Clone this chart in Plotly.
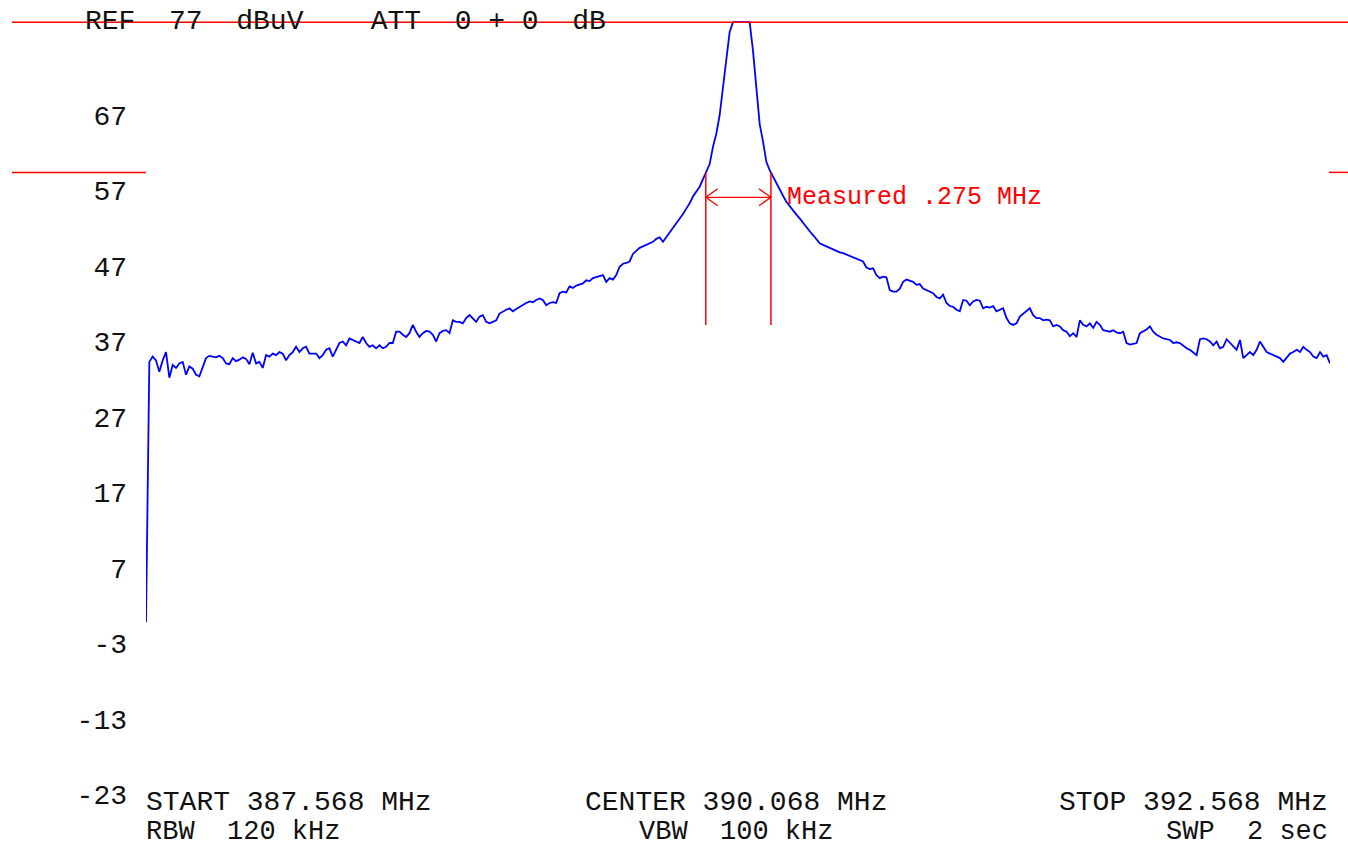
import numpy as np
import plotly.graph_objects as go

# ---------------- data ----------------
start_mhz = 387.568
center_mhz = 390.068
stop_mhz = 392.568
ref_line_db = 79.3          # top-of-screen reference line (display clip level)
meas_level_db = 59.4        # level of the measurement lines
meas_arrow_db = 56.1
meas_bottom_db = 39.2
meas_lo_mhz = 389.932
meas_hi_mhz = 390.207

ytick_vals = [67, 57, 47, 37, 27, 17, 7, -3, -13, -23]
ytick_text = ["67", "57", "47", "37", "27", "17", "7", "-3", "-13", "-23"]

level_dbuv = [
    -0.2,
    34.3, 35.0, 34.5, 33.0, 34.5, 35.6, 32.2, 33.9, 33.5, 34.1,
    34.3, 32.6, 33.7, 33.4, 32.6, 32.4, 33.5, 34.8, 35.1, 35.0,
    34.9, 35.1, 34.8, 34.1, 34.0, 34.8, 34.4, 34.6, 34.9, 34.7,
    34.0, 35.5, 34.1, 34.3, 33.5, 35.2, 35.0, 35.4, 35.2, 35.6,
    35.4, 34.5, 35.2, 35.6, 36.3, 35.6, 36.1, 36.3, 35.4, 35.4,
    35.4, 34.8, 35.2, 35.9, 36.1, 35.0, 35.9, 36.8, 37.0, 36.5,
    37.4, 37.2, 37.0, 36.8, 37.6, 36.8, 36.3, 36.5, 36.1, 36.5,
    36.1, 36.3, 36.8, 36.8,
    38.3, 38.3, 37.9, 37.6, 38.1, 39.2, 38.3, 37.6, 38.1, 38.4,
    38.3, 37.9, 37.0, 38.1, 38.4, 38.5, 38.1, 39.8, 39.6, 39.6,
    39.4, 40.1, 40.5, 40.1, 39.6, 40.3, 40.5, 39.6, 39.4, 39.6,
    39.8, 40.7, 41.0, 41.2, 41.4, 41.0, 41.3, 41.6, 41.8, 42.1,
    42.3, 42.2, 42.5, 42.7, 42.5, 41.8, 42.1, 42.2, 42.1, 43.4,
    43.6, 43.5, 44.3, 44.1, 44.4, 44.5, 44.7, 45.1, 45.0, 45.4,
    45.5, 45.7, 45.8, 44.9, 45.4, 45.2, 45.8, 46.9, 47.3, 47.4,
    47.6,
    48.6, 49.0, 49.4, 49.6, 49.8, 50.0, 50.2, 50.6, 50.8, 50.2,
    50.8, 51.4, 52.0, 52.7, 53.3, 53.9, 54.6, 55.3, 56.2, 56.8,
    57.5, 58.5, 59.5, 60.5, 62.8, 64.5, 67.0, 70.5, 74.5, 78.0,
    79.3, 79.3, 79.3, 79.3, 79.3, 79.3, 75.5, 70.5, 65.8, 63.5,
    60.8, 59.7, 58.8, 57.9, 57.1, 56.3, 55.5, 54.9, 54.4, 53.8,
    53.3, 52.7, 52.2, 51.6, 51.1, 50.6, 50.0, 49.8, 49.6, 49.4,
    49.1, 49.0, 48.8, 48.7, 48.5, 48.3, 48.2, 48.0, 47.8, 47.6,
    46.8, 46.6, 46.7, 45.8, 45.4, 45.6, 45.5, 43.8, 43.6, 43.6,
    44.0, 44.9, 45.2, 45.1, 44.9, 44.5, 44.6, 44.0, 43.8, 43.6,
    43.4, 42.9, 42.7, 43.2, 42.1, 41.7, 41.6, 41.2, 41.0, 42.5,
    42.4, 41.8, 42.3, 42.5, 42.4, 41.4, 41.6, 41.5, 41.7, 41.0,
    41.2, 41.4, 40.1, 39.4, 39.2, 39.4, 40.3, 40.7, 41.0, 41.4,
    40.5, 40.1, 40.1, 39.8, 39.9, 39.8, 39.0, 39.2, 39.0, 38.5,
    38.3, 37.7, 38.1, 37.6, 39.8, 39.2, 39.0, 39.4, 38.8, 39.6,
    39.2, 38.5,
    38.4, 38.3, 38.5, 38.2, 38.1, 38.3, 36.8, 36.6, 36.7, 36.8,
    38.1, 38.3, 38.6, 39.0, 38.3, 37.9, 37.6, 37.4, 37.3, 37.2,
    36.8, 36.9, 36.8, 36.4, 36.1, 35.9, 35.6, 35.2, 37.3, 37.4,
    37.3, 37.0, 36.5, 37.0, 36.1, 36.3, 37.3, 36.8, 36.3, 35.9,
    37.2, 34.8, 35.2, 35.6, 35.2, 35.9, 37.0, 36.3, 35.6, 35.4,
    35.2, 35.0, 34.8, 34.3, 34.8, 35.4, 35.6, 35.9, 35.6, 36.3,
    35.9, 35.6, 35.0, 34.8, 35.6, 35.0, 35.2, 34.1,
]

# uniform sweep grid of the analyzer
freq_mhz = np.linspace(start_mhz, stop_mhz, len(level_dbuv))

# ---------------- layout geometry ----------------
W, H = 1348, 846
ML, MR, MT, MB = 146, 18, 10, 46
PW, PH = W - ML - MR, H - MT - MB
Y_MIN, Y_MAX = -23.728, 80.907

def paper_y_from_px(py):
    return (H - MB - py) / PH

def paper_x_from_px(px):
    return (px - ML) / PW

def paper_y_from_val(v):
    return (v - Y_MIN) / (Y_MAX - Y_MIN)

RED = "#ff0000"
BLUE = "#0000ff"
TXT = "#111111"
FONT = "Liberation Mono"
FS = 28

NB = "\u00a0"
def nb(s):
    return s.replace(" ", NB)

fig = go.Figure()
fig.add_trace(go.Scatter(
    x=freq_mhz, y=level_dbuv, mode="lines",
    line=dict(color=BLUE, width=1.8), hoverinfo="skip", showlegend=False,
))

shapes = []
yr = paper_y_from_val(ref_line_db)
shapes.append(dict(type="line", xref="paper", yref="paper",
                   x0=paper_x_from_px(12), x1=paper_x_from_px(W), y0=yr, y1=yr,
                   line=dict(color=RED, width=1.5)))
ym = paper_y_from_val(meas_level_db)
shapes.append(dict(type="line", xref="paper", yref="paper",
                   x0=paper_x_from_px(12), x1=0, y0=ym, y1=ym,
                   line=dict(color=RED, width=1.5)))
shapes.append(dict(type="line", xref="paper", yref="paper",
                   x0=paper_x_from_px(1329), x1=paper_x_from_px(W), y0=ym, y1=ym,
                   line=dict(color=RED, width=1.5)))
for f in (meas_lo_mhz, meas_hi_mhz):
    shapes.append(dict(type="line", xref="x", yref="y",
                       x0=f, x1=f, y0=meas_bottom_db, y1=meas_level_db,
                       line=dict(color=RED, width=1.5)))
mhz_per_px = (stop_mhz - start_mhz) / PW
db_per_px = (Y_MAX - Y_MIN) / PH
dx = 12 * mhz_per_px
dy = 8.5 * db_per_px
path = (f"M {meas_lo_mhz} {meas_arrow_db} L {meas_hi_mhz} {meas_arrow_db} "
        f"M {meas_lo_mhz + dx} {meas_arrow_db + dy} L {meas_lo_mhz} {meas_arrow_db} "
        f"L {meas_lo_mhz + dx} {meas_arrow_db - dy} "
        f"M {meas_hi_mhz - dx} {meas_arrow_db + dy} L {meas_hi_mhz} {meas_arrow_db} "
        f"L {meas_hi_mhz - dx} {meas_arrow_db - dy}")
shapes.append(dict(type="path", xref="x", yref="y", path=path,
                   line=dict(color=RED, width=1.3)))

annotations = []
def add_text(text, x, y, xanchor, color=TXT, size=FS, xref="paper"):
    annotations.append(dict(text=nb(text), x=x, y=y, xref=xref, yref="paper",
                            xanchor=xanchor, yanchor="middle", showarrow=False,
                            borderpad=0,
                            font=dict(family=FONT, size=size, color=color)))

FS2 = 27
L1, L2 = 802, 832
add_text("REF  77  dBuV    ATT  0 + 0  dB", paper_x_from_px(84), paper_y_from_px(22), "left")
add_text("START 387.568 MHz", paper_x_from_px(145), paper_y_from_px(L1), "left")
add_text("RBW  120 kHz", paper_x_from_px(145), paper_y_from_px(L2), "left", size=FS2)
add_text("CENTER 390.068 MHz", paper_x_from_px(736), paper_y_from_px(L1), "center")
add_text("VBW  100 kHz", paper_x_from_px(736), paper_y_from_px(L2), "center", size=FS2)
add_text("STOP 392.568 MHz", paper_x_from_px(1329), paper_y_from_px(L1), "right")
add_text("SWP  2 sec", paper_x_from_px(1329), paper_y_from_px(L2), "right", size=FS2)
annotations.append(dict(text=nb("Measured .275 MHz"), x=meas_hi_mhz, y=meas_arrow_db,
                        xref="x", yref="y", xanchor="left", yanchor="middle",
                        xshift=14, showarrow=False,
                        font=dict(family=FONT, size=25, color=RED)))

fig.update_layout(
    width=W, height=H,
    margin=dict(l=ML, r=MR, t=MT, b=MB, pad=0),
    paper_bgcolor="white", plot_bgcolor="white",
    showlegend=False,
    shapes=shapes, annotations=annotations,
    xaxis=dict(range=[start_mhz, stop_mhz], visible=False, fixedrange=True),
    yaxis=dict(range=[Y_MIN, Y_MAX], tickvals=ytick_vals, ticktext=ytick_text,
               showgrid=False, zeroline=False, showline=False, ticks="",
               ticklabelstandoff=18,
               tickfont=dict(family=FONT, size=FS, color=TXT), fixedrange=True),
)

fig.write_html(
    "out.html",
    config={"displayModeBar": False},
    post_script="document.body.style.margin='0';document.body.style.overflow='hidden';",
)
